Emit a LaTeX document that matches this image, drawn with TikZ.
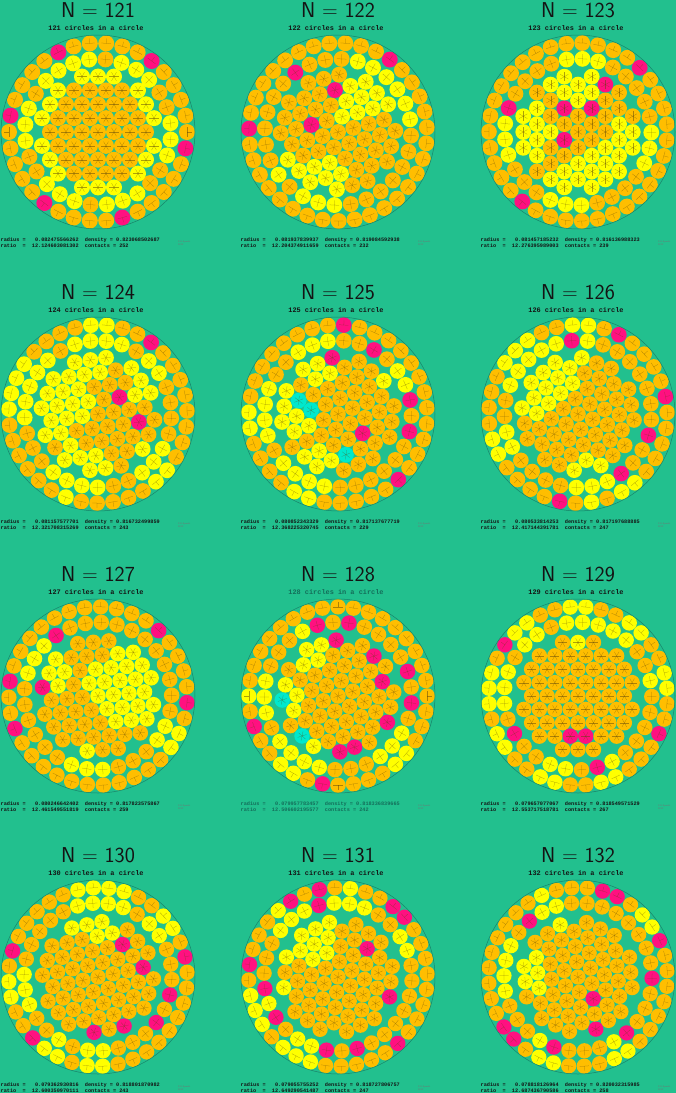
\documentclass[tikz,border=0pt]{standalone}
\usepackage{fontspec}
\newfontfamily\monof{Liberation Mono}
\definecolor{bg}{RGB}{34,192,142}
\definecolor{cO}{RGB}{255,190,0}
\definecolor{cY}{RGB}{255,255,0}
\definecolor{cM}{RGB}{255,16,128}
\definecolor{cC}{RGB}{0,232,205}
\definecolor{rimc}{RGB}{25,130,105}
\definecolor{spk}{RGB}{90,70,10}
\definecolor{txt}{RGB}{20,20,20}
\definecolor{txtb}{RGB}{20,110,90}
\tikzset{
 spoke/.style={draw=spk, line width=0.25pt, opacity=0.5},
 rim/.style={draw=rimc, line width=0.5pt},
 ttl/.style={font=\sffamily\fontsize{21.5}{22}\selectfont, text=txt},
 sub/.style={font=\monof\bfseries\fontsize{6.9}{7}\selectfont},
 info/.style={font=\monof\bfseries\fontsize{5.2}{5.5}\selectfont, anchor=west, inner sep=0pt},
 copyr/.style={font=\sffamily\fontsize{2.4}{2.7}\selectfont, text=black!55, anchor=west, inner sep=0pt, align=left},
}
\def\RR{97}
\newcommand\pickcolor[2]{%
  \xdef\curcol{cO}%
  \foreach \kk/\bx/\by/\brr in \clist {%
    \pgfmathtruncatemacro\hit{((#1)-(\bx))^2+((#2)-(\by))^2<(\brr)^2}%
    \ifnum\hit=1 \xdef\curcol{\kk}\fi
  }%
}
\newcommand\disc[4]{%
  \pickcolor{#1}{#2}%
  \fill[\curcol] ({(#1)*\RR},{(#2)*\RR}) circle (\rp pt);
  \foreach \sbb in {#4}{%
    \pgfmathsetmacro\sang{(#3)+\sbb}%
    \draw[spoke] ({(#1)*\RR},{(#2)*\RR}) -- ++(\sang:\spl pt);
  }%
}
\newcommand\packing[6]{%
\begin{scope}[shift={(#1,-#2)}]
  \def\clist{#6}%
  \pgfmathsetmacro\rrr{#3}%
  \pgfmathsetmacro\rp{\rrr*\RR}%
  \pgfmathsetmacro\spl{0.6*\rp}%
  \pgfmathsetmacro\rza{1-\rrr}%
  \pgfmathtruncatemacro\nz{floor(180/asin(\rrr/\rza))}%
  \foreach \kq in {1,...,\nz}{%
    \pgfmathsetmacro\ang{#5+360*\kq/\nz}%
    \pgfmathsetmacro\ux{\rza*cos(\ang)}%
    \pgfmathsetmacro\uy{\rza*sin(\ang)}%
    \disc{\ux}{\uy}{\ang}{0,90,-90}%
  }%
  \pgfmathsetmacro\rzb{1-3*\rrr}%
  \pgfmathtruncatemacro\nb{floor(180/asin(\rrr/\rzb))}%
  \foreach \kq in {1,...,\nb}{%
    \pgfmathsetmacro\ang{#5+7+360*\kq/\nb}%
    \pgfmathsetmacro\ux{\rzb*cos(\ang)}%
    \pgfmathsetmacro\uy{\rzb*sin(\ang)}%
    \disc{\ux}{\uy}{\ang}{0,90,-90,180}%
  }%
  \pgfmathsetmacro\climsq{(1-5*\rrr+0.012)^2}%
  \foreach \i in {-7,...,7}{\foreach \j in {-5,...,5}{%
    \pgfmathsetmacro\lx{2*\rrr*(\i+0.5*\j)}%
    \pgfmathsetmacro\ly{1.7320508*\rrr*\j}%
    \pgfmathsetmacro\ux{(\lx)*cos(#4)-(\ly)*sin(#4)}%
    \pgfmathsetmacro\uy{(\lx)*sin(#4)+(\ly)*cos(#4)}%
    \pgfmathtruncatemacro\inq{(\ux)^2+(\uy)^2<=\climsq}%
    \ifnum\inq=1 \disc{\ux}{\uy}{#4}{0,60,120,180,240,300}\fi
  }}%
  \draw[rim] (0,0) circle (\RR pt);
\end{scope}}
\newcommand\captions[8]{%
 \node[ttl] (ttl#3) at (#1,{122-#2}) {N = #3};
 \node[sub,text=#8] (sub#3) at ({#1-2},{104-#2}) {#3 circles in a circle};
 \node[info,text=#8] (rad#3) at ({#1-97.5},{-#2-108}) {radius~=~~~#4~~density~=~#5};
 \node[info,text=#8] (rat#3) at ({#1-97.5},{-#2-114}) {ratio~~=~~#6~~contacts~=~#7};
 \node[copyr] (cp#3) at ({#1+80},{-#2-111}) {\copyright~E.Specht\\ 2012};
}
\begin{document}
\begin{tikzpicture}[x=1pt,y=1pt]
\useasboundingbox (0,0) rectangle (676,-1093);
\fill[bg] (0,0) rectangle (676,-1093);
% row 1
\packing{98}{132}{0.08248}{0}{0}{cY/-0.35/0.67/0.1, cY/-0.19/0.73/0.1, cY/-0.48/0.58/0.1, cY/-0.23/0.56/0.1, cY/-0.07/0.58/0.1, cY/0.27/0.69/0.1, cY/0.43/0.62/0.1, cY/0.23/0.53/0.1, cY/0.38/0.46/0.1, cY/0.55/0.51/0.1, cY/-0.36/0.46/0.1, cY/0.48/0.33/0.1, cY/-0.74/0.19/0.1, cY/-0.55/0.23/0.1, cY/-0.78/0.03/0.1, cY/-0.62/0.07/0.1, cY/-0.76/-0.13/0.1, cY/-0.60/-0.08/0.1, cY/-0.49/-0.36/0.1, cY/0.59/0.05/0.1, cY/0.75/0.10/0.1, cY/0.60/-0.12/0.1, cY/0.77/-0.07/0.1, cY/0.73/-0.23/0.1, cY/0.54/-0.27/0.1, cY/-0.39/-0.50/0.1, cY/-0.56/-0.55/0.1, cY/-0.25/-0.57/0.1, cY/-0.44/-0.66/0.1, cY/-0.28/-0.73/0.1, cY/0.05/-0.62/0.1, cY/0.22/-0.60/0.1, cY/0.35/-0.50/0.1, cY/0.47/-0.62/0.1, cY/0.34/-0.71/0.1, cY/0.18/-0.76/0.1, cM/-0.34/0.85/0.085, cM/0.58/0.69/0.085, cM/-0.92/0.13/0.085, cM/0.90/-0.17/0.085, cM/-0.59/-0.73/0.085, cM/0.32/-0.88/0.085}
\captions{98}{132}{121}{0.082475566262}{0.823068502687}{12.124603081302}{252}{txt}
\packing{338}{132}{0.08194}{15}{3}{cY/0.35/0.45/0.33, cY/0.72/0.15/0.15, cY/-0.2/-0.55/0.28, cY/-0.55/-0.4/0.15, cY/0.1/0.15/0.1, cM/0.54/0.74/0.085, cM/-0.39/0.62/0.085, cM/-0.10/0.41/0.085, cM/-0.93/0.0/0.085, cM/-0.29/0.01/0.085, cM/-0.59/-0.16/0.085}
\captions{338}{132}{122}{0.081937839937}{0.819084592938}{12.204374911659}{232}{txt}
\packing{578}{132}{0.08146}{30}{5}{cY/0.0/0.55/0.3, cY/-0.55/0.0/0.3, cY/0.6/-0.15/0.3, cY/-0.1/-0.6/0.3, cY/0.3/-0.3/0.2, cM/0.65/0.64/0.085, cM/0.28/0.56/0.085, cM/0.52/0.29/0.085, cM/-0.10/0.26/0.085, cM/0.20/0.21/0.085, cM/-0.72/0.21/0.085, cM/-0.15/-0.08/0.085, cM/-0.60/-0.72/0.085}
\captions{578}{132}{123}{0.081457185232}{0.816136988323}{12.276395989003}{239}{txt}
% row 2
\packing{98}{414}{0.08116}{8}{2}{cY/-0.5/0.2/0.45, cY/0.0/0.7/0.3, cY/0.5/0.35/0.2, cY/-0.2/-0.6/0.3, cY/0.6/-0.5/0.2, cM/0.61/0.69/0.085, cM/0.20/0.20/0.085, cM/0.41/-0.09/0.085}
\captions{98}{414}{124}{0.081157577701}{0.816732499859}{12.321708315269}{243}{txt}
\packing{338}{414}{0.08085}{22}{4}{cY/-0.6/0.0/0.35, cY/-0.3/-0.6/0.3, cY/-0.2/0.6/0.25, cY/0.6/0.4/0.15, cC/-0.43/0.2/0.1, cC/-0.25/0.05/0.1, cC/0.11/-0.47/0.1, cM/0.09/0.90/0.085, cM/-0.10/0.59/0.085, cM/0.40/0.59/0.085, cM/0.75/0.08/0.085, cM/0.20/-0.20/0.085, cM/0.67/-0.22/0.085, cM/0.30/-0.54/0.085, cM/0.66/-0.66/0.085}
\captions{338}{414}{125}{0.080852343329}{0.817137677719}{12.368225320745}{229}{txt}
\packing{578}{414}{0.08053}{40}{1}{cY/-0.4/0.4/0.4, cY/0.0/0.75/0.2, cY/-0.75/-0.3/0.2, cY/0.1/-0.7/0.25, cY/0.5/-0.75/0.15, cM/0.36/0.85/0.085, cM/-0.05/0.71/0.085, cM/0.90/0.22/0.085, cM/0.67/-0.19/0.085, cM/-0.60/-0.30/0.085, cM/0.48/-0.60/0.085, cM/-0.21/-0.91/0.085}
\captions{578}{414}{126}{0.080533814253}{0.817197688885}{12.417144391781}{247}{txt}
% row 3
\packing{98}{696}{0.08025}{5}{6}{cY/0.3/0.1/0.4, cY/-0.55/0.3/0.25, cY/-0.1/-0.7/0.2, cY/0.7/-0.4/0.15, cM/0.61/0.67/0.085, cM/-0.41/0.65/0.085, cM/-0.93/0.08/0.085, cM/-0.63/0.08/0.085, cM/0.91/-0.12/0.085, cM/-0.89/-0.32/0.085, cM/-0.19/-0.68/0.085}
\captions{98}{696}{127}{0.080246642402}{0.817823575867}{12.461549551819}{259}{txt}
\packing{338}{696}{0.07996}{18}{0}{cY/-0.65/0.0/0.3, cY/-0.4/-0.6/0.25, cY/-0.3/0.5/0.2, cY/0.55/-0.55/0.2, cC/-0.55/0.0/0.1, cC/-0.39/-0.43/0.1, cM/0.09/0.76/0.085, cM/-0.21/0.66/0.085, cM/0.04/0.53/0.085, cM/0.35/0.41/0.085, cM/0.72/0.21/0.085, cM/0.47/0.10/0.085, cM/0.71/-0.09/0.085, cM/-0.85/-0.37/0.085, cM/0.47/-0.33/0.085, cM/0.09/-0.53/0.085, cM/-0.21/-0.90/0.085}
\captions{338}{696}{128}{0.079957783457}{0.818336839665}{12.506602195577}{242}{txtb}
\packing{578}{696}{0.07966}{0}{5}{cY/0/0.8/0.25, cY/-0.5/0.65/0.2, cY/0.5/0.65/0.2, cY/-0.85/0.1/0.2, cY/-0.75/-0.45/0.2, cY/-0.3/-0.8/0.2, cY/0.3/-0.8/0.2, cY/0.85/0.2/0.15, cM/-0.73/0.55/0.085, cM/-0.39/0.55/0.085, cM/0.56/-0.30/0.085, cM/0/-0.43/0.085, cM/0.82/-0.43/0.085, cM/-0.67/-0.43/0.085, cM/0.18/-0.71/0.085}
\captions{578}{696}{129}{0.079657077067}{0.818549571529}{12.553717518781}{267}{txt}
% row 4
\packing{98}{977}{0.07936}{12}{3}{cY/0/0.7/0.35, cY/-0.85/-0.15/0.2, cY/0.0/-0.85/0.2, cY/-0.5/-0.75/0.15, cY/0.65/0.55/0.15, cM/-0.39/0.43/0.085, cM/-0.88/0.32/0.085, cM/0.28/0.36/0.085, cM/0.52/0.15/0.085, cM/0.88/0.23/0.085, cM/0.72/-0.24/0.085, cM/0.54/-0.46/0.085, cM/-0.67/-0.65/0.085, cM/-0.08/-0.62/0.085, cM/0.23/-0.55/0.085}
\captions{98}{977}{130}{0.079362930816}{0.818801870982}{12.600350970111}{243}{txt}
\packing{338}{977}{0.07906}{25}{2}{cY/-0.35/0.5/0.35, cY/0.1/0.75/0.2, cY/-0.7/-0.3/0.25, cY/-0.4/-0.75/0.2, cY/0.6/0.35/0.15, cM/-0.49/0.77/0.085, cM/-0.18/0.82/0.085, cM/0.62/0.67/0.085, cM/-0.60/0.31/0.085, cM/-0.92/0.21/0.085, cM/0.25/0.31/0.085, cM/-0.78/-0.13/0.085, cM/0.59/-0.21/0.085, cM/-0.68/-0.44/0.085, cM/0.67/-0.65/0.085, cM/-0.11/-0.72/0.085, cM/0.18/-0.77/0.085}
\captions{338}{977}{131}{0.079055755252}{0.818727806757}{12.649290541487}{247}{txt}
\packing{578}{977}{0.07882}{35}{4}{cY/-0.6/0.1/0.3, cY/-0.3/0.7/0.2, cY/-0.3/-0.8/0.2, cY/0.4/-0.8/0.15, cY/0.7/0.6/0.15, cM/0.20/0.90/0.085, cM/0.48/0.82/0.085, cM/-0.44/0.57/0.085, cM/0.85/0.36/0.085, cM/0.72/-0.08/0.085, cM/0.21/-0.24/0.085, cM/-0.72/-0.58/0.085, cM/-0.19/-0.78/0.085, cM/0.18/-0.55/0.085, cM/0.48/-0.60/0.085}
\captions{578}{977}{132}{0.078818126964}{0.820032315985}{12.687436790586}{258}{txt}
\end{tikzpicture}
\end{document}
